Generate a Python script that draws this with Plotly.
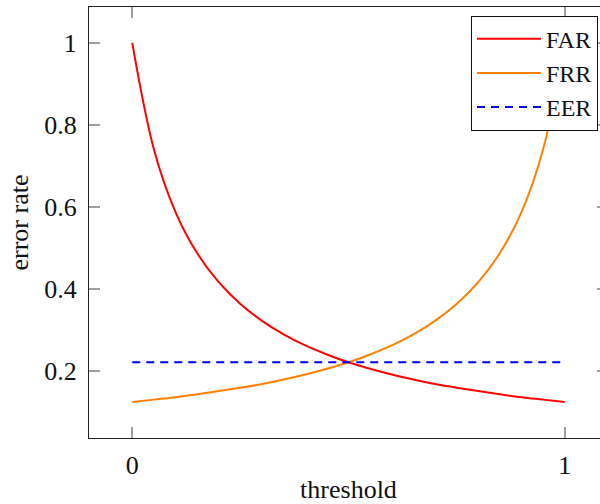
import plotly.graph_objects as go

threshold = [0.0, 0.05, 0.1, 0.15, 0.2, 0.25, 0.3, 0.35, 0.4, 0.45, 0.5,
             0.55, 0.6, 0.65, 0.7, 0.75, 0.8, 0.85, 0.9, 0.95, 1.0]
far = [1.0, 0.741, 0.588, 0.488, 0.417, 0.364, 0.323, 0.290, 0.263, 0.241, 0.222,
       0.206, 0.192, 0.180, 0.169, 0.160, 0.152, 0.144, 0.137, 0.131, 0.125]
frr = [0.125, 0.131, 0.137, 0.144, 0.152, 0.160, 0.169, 0.180, 0.192, 0.206, 0.222,
       0.241, 0.263, 0.290, 0.323, 0.364, 0.417, 0.488, 0.588, 0.741, 1.0]
eer_x = [0.0, 1.0]
eer_y = [0.222, 0.222]

x_ticks = [0, 1]
x_ticklabels = ["0", "1"]
y_ticks = [0.2, 0.4, 0.6, 0.8, 1.0]
y_ticklabels = ["0.2", "0.4", "0.6", "0.8", "1"]

FONT = "Liberation Serif, Times New Roman, serif"

fig = go.Figure()
fig.add_trace(go.Scatter(x=threshold, y=far, mode="lines", name="FAR",
                         line=dict(color="#ff0000", width=2, shape="spline")))
fig.add_trace(go.Scatter(x=threshold, y=frr, mode="lines", name="FRR",
                         line=dict(color="#ff8000", width=2, shape="spline")))
fig.add_trace(go.Scatter(x=eer_x, y=eer_y, mode="lines", name="EER",
                         line=dict(color="#0000ff", width=2, dash="8px,6px")))

axis_common = dict(showgrid=False, zeroline=False, showline=True,
                   linecolor="#222222", linewidth=1.2, mirror="ticks",
                   ticks="inside", ticklen=11, tickwidth=1.5, tickcolor="#a0a0a0",
                   tickfont=dict(family=FONT, size=26, color="#111111"))

fig.update_layout(
    width=608, height=504,
    margin=dict(l=89, r=0, t=7, b=66),
    paper_bgcolor="white", plot_bgcolor="white",
    font=dict(family=FONT, size=26, color="#111111"),
    xaxis=dict(range=[-0.1, 1.1], tickvals=x_ticks, ticktext=x_ticklabels,
               title=dict(text="threshold", standoff=4,
                          font=dict(family=FONT, size=26)),
               ticklabelstandoff=4, **axis_common),
    yaxis=dict(range=[0.0375, 1.0875], tickvals=y_ticks, ticktext=y_ticklabels,
               title=dict(text="error rate", standoff=8,
                          font=dict(family=FONT, size=26)),
               ticklabelstandoff=6, **axis_common),
    legend=dict(x=(597 - 89) / 518, y=0.98, xanchor="right", yanchor="top",
                bordercolor="#111111", borderwidth=1, bgcolor="white",
                itemwidth=64,
                font=dict(family=FONT, size=24)),
    showlegend=True,
)

fig.write_html(
    "out.html",
    config={"displayModeBar": False},
    post_script=("document.body.style.margin='0';"
                 "document.body.style.overflow='hidden';"
                 "document.documentElement.style.overflow='hidden';"),
)
